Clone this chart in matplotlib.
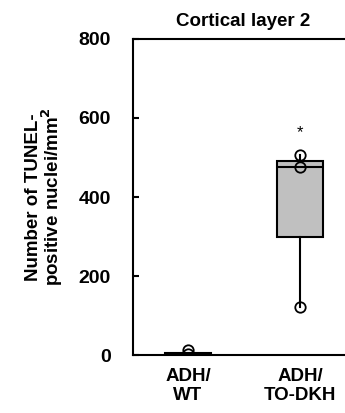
import matplotlib.pyplot as plt

plt.rcParams['font.family'] = ['Liberation Sans', 'DejaVu Sans']
plt.rcParams['font.weight'] = 'bold'

groups = ["ADH/\nWT", "ADH/\nTO-DKH"]
q1 = [0, 300]
med = [3, 476]
q3 = [6, 492]
whislo = [0, 122]
whishi = [6, 505]
points = [[3, 12], [505, 476, 122]]
star_y = 562

fig = plt.figure(figsize=(3.45, 4.13), dpi=100)
ax = fig.add_axes([0.386, 0.140, 0.614, 0.766])

stats = []
for i in range(2):
    stats.append(dict(q1=q1[i], med=med[i], q3=q3[i], whislo=whislo[i],
                      whishi=whishi[i], fliers=[], label=groups[i]))

ax.bxp(stats, positions=[1, 2], widths=0.41, patch_artist=True,
       showcaps=False,
       boxprops=dict(facecolor='#c0c0c0', edgecolor='black', linewidth=1.5),
       medianprops=dict(color='black', linewidth=1.5),
       whiskerprops=dict(color='black', linewidth=1.5))

for i, pts in enumerate(points):
    ax.plot([i + 1] * len(pts), pts, 'o', mfc='none', mec='black',
            ms=7.5, mew=1.3, zorder=5)

ax.text(2, star_y, '*', ha='center', va='center', fontsize=12, fontweight='normal')

ax.set_xlim(0.51, 2.40)
ax.set_ylim(0, 800)
ax.set_yticks([0, 200, 400, 600, 800])
ax.set_xticks([1, 2])
ax.set_xticklabels(groups, fontsize=13.5, linespacing=1.2)
ax.tick_params(axis='y', direction='in', length=4, width=1.5, labelsize=14, pad=16)
ax.tick_params(axis='x', length=0, pad=9)
ax.spines['right'].set_visible(False)
for s in ['left', 'top', 'bottom']:
    ax.spines[s].set_linewidth(1.5)

ax.set_ylabel("Number of TUNEL-\npositive nuclei/mm$^\\mathbf{2}$", fontsize=13.5,
              fontweight='bold', linespacing=0.85, labelpad=10)
ax.set_title("Cortical layer 2", fontsize=13.5, fontweight='bold', pad=9, x=0.52)

fig.savefig("out.png", dpi=100)
